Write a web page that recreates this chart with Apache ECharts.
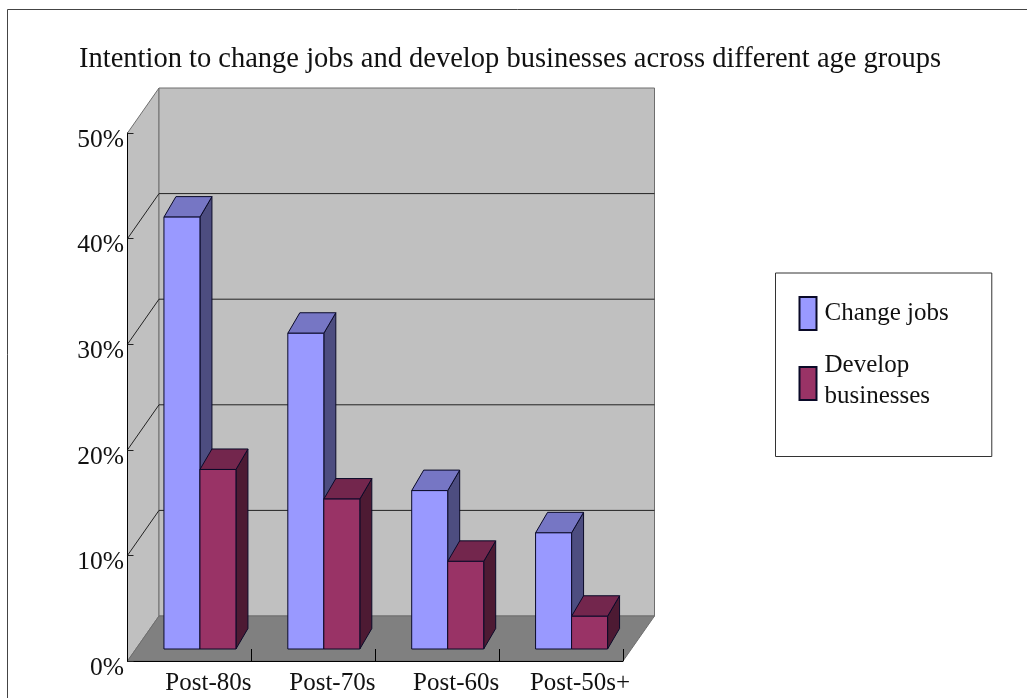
<!DOCTYPE html>
<html><head><meta charset="utf-8">
<style>html,body{margin:0;padding:0;background:#fff}#c{width:1027px;height:698px}</style>
<script src="https://cdn.jsdelivr.net/npm/echarts@6/dist/echarts.min.js"></script>
</head><body><div id="c"></div>
<script>
const categories = ['Post-80s','Post-70s','Post-60s','Post-50s+'];
const changeJobs = [40.9, 29.9, 15, 11];
const developBusinesses = [17, 14.2, 8.3, 3.1];
const yTicks = [0,10,20,30,40,50];
const titleText = 'Intention to change jobs and develop businesses across different age groups';

const FONT = '"Liberation Serif", serif';
const DX = 31.5, DY = 45;          // depth of the chart box
const BAR_W = 36, BAR_DX = 12, BAR_DY = 20.5, BASE_DX = 10.5, BASE_DY = 12;

function wallsItem(params, api){
  const g = params.coordSys;
  const l = g.x, r = g.x + g.width, t = g.y, b = g.y + g.height;
  const edge = {stroke:'#6e6e6e', lineWidth:1};
  return {type:'group', children:[
    {type:'polygon', shape:{points:[[l,t],[l+DX,t-DY],[l+DX,b-DY],[l,b]]}, style:{fill:'#C0C0C0', ...edge}},
    {type:'polygon', shape:{points:[[l+DX,t-DY],[r+DX,t-DY],[r+DX,b-DY],[l+DX,b-DY]]}, style:{fill:'#C0C0C0', ...edge}},
    {type:'polygon', shape:{points:[[l,b],[l+DX,b-DY],[r+DX,b-DY],[r,b]]}, style:{fill:'#808080', ...edge}}
  ]};
}
function gridItem(params, api){
  const v = api.value(0);
  const g = params.coordSys;
  const y = api.coord([0, v])[1];
  const l = g.x, r = g.x + g.width;
  const kids = [];
  if (v !== 0 && v !== 50) {
    kids.push({type:'polyline', shape:{points:[[l,y],[l+DX,y-DY],[r+DX,y-DY]]}, style:{fill:null, stroke:'#222', lineWidth:1}});
  }
  return {type:'group', children:kids};
}
function barMaker(slot, front, top, side){
  return function(params, api){
    const c = api.coord([api.value(0), api.value(1)]);
    const base = api.coord([api.value(0), 0])[1] - BASE_DY;
    const x0 = c[0] + BASE_DX - BAR_W + slot * BAR_W, x1 = x0 + BAR_W;
    const yT = c[1] - BASE_DY;
    const line = {stroke:'#0a0a28', lineWidth:1, lineJoin:'round'};
    return {type:'group', children:[
      {type:'polygon', shape:{points:[[x1,yT],[x1+BAR_DX,yT-BAR_DY],[x1+BAR_DX,base-BAR_DY],[x1,base]]}, style:{fill:side, ...line}},
      {type:'polygon', shape:{points:[[x0,yT],[x0+BAR_DX,yT-BAR_DY],[x1+BAR_DX,yT-BAR_DY],[x1,yT]]}, style:{fill:top, ...line}},
      {type:'rect', shape:{x:x0,y:yT,width:BAR_W,height:base-yT}, style:{fill:front, ...line}}
    ]};
  };
}
const chart = echarts.init(document.getElementById('c'), null, {renderer:'canvas'});
chart.setOption({
  animation:false,
  backgroundColor:'#fff',
  title:{text:titleText, left:79, top:45, padding:0,
    textStyle:{fontFamily:FONT, fontSize:28.5, fontWeight:'normal', color:'#111'}},
  grid:{left:127.5, top:133, width:495.5, height:528},
  legend:{
    orient:'vertical', left:775.5, top:273, selectedMode:false,
    data:['Change jobs','Develop businesses'],
    icon:'rect', itemWidth:17, itemHeight:33, itemGap:21.5,
    padding:[23,43,40,23],
    backgroundColor:'#fff', borderColor:'#333', borderWidth:1,
    formatter: function(name){
      if (name === 'Change jobs') return '{a|' + name + '}';
      const w = name.split(' ');
      return '{a|' + w[0] + '}\n{a|' + w[1] + '}\n{s| }';
    },
    textStyle:{fontFamily:FONT, fontSize:25, color:'#111',
      rich:{
        a:{fontFamily:FONT, fontSize:25, color:'#111', lineHeight:31, padding:[0,0,0,3]},
        s:{fontSize:4, lineHeight:6}
      }}
  },
  xAxis:{type:'category', data:categories, z:5,
    axisLine:{lineStyle:{color:'#000',width:1}},
    axisTick:{show:true, inside:true, length:12, alignWithLabel:false, lineStyle:{color:'#000'}},
    axisLabel:{fontFamily:FONT, fontSize:25, color:'#111', margin:10, interval:0, padding:[0,0,0,38]}
  },
  yAxis:{type:'value', min:0, max:50, interval:10, z:5,
    axisLine:{show:true, lineStyle:{color:'#000',width:1}},
    axisTick:{show:true, inside:true, length:6, lineStyle:{color:'#222'}},
    splitLine:{show:false},
    axisLabel:{margin:3.5, formatter:function(v){ return '{s| }\n{v|' + v + '%}'; },
      rich:{
        s:{fontSize:4, lineHeight:14},
        v:{fontFamily:FONT, fontSize:25.5, color:'#111', lineHeight:30}
      }}
  },
  series:[
    {name:'walls', type:'custom', coordinateSystem:'cartesian2d', z:1, silent:true,
      data:[[0,0]], encode:{x:0,y:1}, renderItem:wallsItem},
    {name:'grid', type:'custom', coordinateSystem:'cartesian2d', z:2, silent:true,
      data:yTicks.map(v=>[v]), encode:{y:0}, renderItem:gridItem},
    {name:'Change jobs', type:'custom', coordinateSystem:'cartesian2d', z:6,
      itemStyle:{color:'#9999FF', borderColor:'#0a0a28', borderWidth:1},
      data:categories.map((c,i)=>[i,changeJobs[i]]), encode:{x:0,y:1},
      renderItem:barMaker(0,'#9999FF','#7676C4','#4D4D80')},
    {name:'Develop businesses', type:'custom', coordinateSystem:'cartesian2d', z:7,
      itemStyle:{color:'#993366', borderColor:'#0a0a28', borderWidth:1},
      data:categories.map((c,i)=>[i,developBusinesses[i]]), encode:{x:0,y:1},
      renderItem:barMaker(1,'#993366','#73264D','#4D1A33')}
  ],
  graphic:[{type:'rect', z:-1, shape:{x:7.5,y:9.5,width:1100,height:800}, style:{fill:null, stroke:'#444', lineWidth:1}}]
});
</script></body></html>
